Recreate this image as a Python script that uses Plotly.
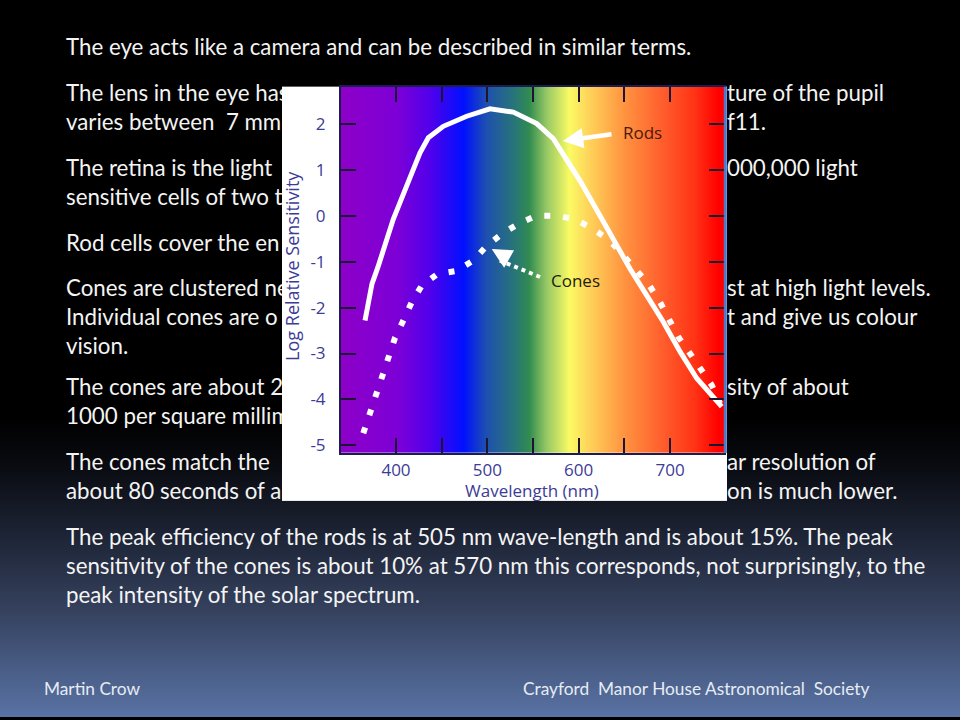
import plotly.graph_objects as go

# ---------------- data ----------------
rods_nm = [366.1, 369.3, 373.7, 380.3, 386.9, 397.0, 411.7, 426.3, 435.4, 451.8, 477.4, 502.9,
           528.4, 554.1, 572.2, 586.9, 601.5, 623.4, 648.9, 656.2, 674.5, 692.7, 711.0, 729.2, 756.6]
rods_log = [-2.28, -1.87, -1.48, -1.11, -0.72, -0.07, 0.66, 1.38, 1.71, 1.96, 2.18, 2.34,
            2.27, 2.02, 1.69, 1.24, 0.77, 0.01, -0.93, -1.15, -1.73, -2.31, -2.96, -3.54, -4.16]

cones_nm = [364.2, 371.5, 378.9, 385.4, 391.6, 398.9, 408.0, 417.2, 428.1, 444.9, 465.7, 484.6,
            499.3, 515.7, 533.9, 554.1, 576.0, 596.0, 616.0, 634.3, 649.0, 665.3, 676.3, 689.1,
            698.2, 709.1, 721.9, 733.6, 745.7, 754.8]
cones_log = [-4.74, -4.30, -3.89, -3.47, -3.07, -2.66, -2.28, -1.88, -1.52, -1.27, -1.20, -0.97,
             -0.65, -0.39, -0.17, 0.01, 0.01, -0.07, -0.28, -0.54, -0.86, -1.22, -1.48, -1.88,
             -2.24, -2.64, -3.00, -3.36, -3.69, -4.09]

# visible spectrum backdrop (wavelength -> colour)
spec_nm = [342, 401, 437, 473, 499, 531, 546, 564, 589, 611, 647, 690, 727, 752]
spec_rgb = ["rgb(140,0,200)", "rgb(125,0,215)", "rgb(80,0,235)", "rgb(0,16,255)",
            "rgb(30,80,175)", "rgb(40,120,115)", "rgb(50,140,80)", "rgb(150,200,100)",
            "rgb(250,250,100)", "rgb(255,210,90)", "rgb(255,150,65)", "rgb(255,95,45)",
            "rgb(255,50,20)", "rgb(255,0,0)"]

x_tick_vals = [400, 450, 500, 550, 600, 650, 700]
x_tick_text = ["400", "", "500", "", "600", "", "700"]
y_tick_vals = [-5, -4, -3, -2, -1, 0, 1, 2]
y_tick_text = ["-5", "-4", "-3", "-2", "-1", "0", "1", "2"]

rods_label = ("Rods", 670.4, 1.83)
rods_arrow_head = (582.8, 1.64)
cones_label = ("Cones", 596.0, -1.41)
cones_arrow_head = (504.8, -0.72)
cones_arrow_tail = (557.7, -1.33)

# slide text (the chart picture is laid over part of it)
left_text = [
    "The eye acts like a camera and can be described in similar terms.",
    "The lens in the eye has",
    "varies between  7 mm",
    "The retina is the light",
    "sensitive cells of two t",
    "Rod cells cover the en",
    "Cones are clustered ne",
    "Individual cones are o",
    "vision.",
    "The cones are about 2",
    "1000 per square millim",
    "The cones match the",
    "about 80 seconds of a",
    "The peak efficiency of the rods is at 505 nm wave-length and is about 15%. The peak",
    "sensitivity of the cones is about 10% at 570 nm this corresponds, not surprisingly, to the",
    "peak intensity of the solar spectrum.",
]
left_y = [47, 93, 122, 168, 197, 243, 289, 318, 347, 388, 417, 463, 492, 539, 568, 597]
right_text = [
    "ture of the pupil",
    "f11.",
    "000,000 light",
    "st at high light levels.",
    "t and give us colour",
    "sity of about",
    "ar resolution of",
    "on is much lower.",
]
right_y = [93, 122, 168, 289, 318, 388, 463, 492]
footer_text = ["Martin Crow", "Crayford  Manor House Astronomical  Society"]
footer_x = [44, 523]

# slide background gradient (y px from top -> colour)
bg_y = [-40, 420, 470, 540, 610, 670, 720, 760]
bg_rgb = ["rgb(0,0,0)", "rgb(0,0,0)", "rgb(10,12,18)", "rgb(30,37,55)",
          "rgb(52,64,92)", "rgb(72,92,132)", "rgb(90,115,165)", "rgb(90,115,165)"]

# ---------------- helpers ----------------
W, H = 960, 720
TEXT_DY = 3  # scatter text sits a little high; nudge down
def px(x):
    return x / W
def py(y):
    return 1 - y / H

shapes = [
    # blue right edge of the picture
    dict(type="line", xref="paper", yref="paper", x0=px(725.3), x1=px(725.3),
         y0=py(455), y1=py(87), line=dict(color="#4f78c8", width=3), layer="above"),
    # dotted stem of the cones arrow
    dict(type="line", xref="x3", yref="y3", x0=cones_arrow_tail[0], y0=cones_arrow_tail[1],
         x1=cones_arrow_head[0] + 9, y1=cones_arrow_head[1] - 0.25,
         line=dict(color="white", width=4, dash="4px,4px"), layer="above"),
]

# ---------------- figure ----------------
TEXT_FONT = dict(family="Lato", size=22.3, color="#f4f4f4")
FOOT_FONT = dict(family="Lato", size=17.3, color="#e6ecf4")

fig = go.Figure()
# 0) slide background gradient on the full-page hidden subplot (x, y)
nb = len(bg_y)
fig.add_trace(go.Heatmap(
    x=[-20, W + 20], y=bg_y, z=[[i, i] for i in range(nb)],
    colorscale=[[i / (nb - 1), c] for i, c in enumerate(bg_rgb)],
    zmin=0, zmax=nb - 1, zsmooth="best", showscale=False, hoverinfo="skip"))
# 1) slide text
fig.add_trace(go.Scatter(x=[66] * len(left_text), y=[v + TEXT_DY for v in left_y], text=left_text,
                         mode="text", textposition="middle right", textfont=TEXT_FONT,
                         hoverinfo="skip", cliponaxis=False))
fig.add_trace(go.Scatter(x=[727] * len(right_text), y=[v + TEXT_DY for v in right_y], text=right_text,
                         mode="text", textposition="middle right", textfont=TEXT_FONT,
                         hoverinfo="skip", cliponaxis=False))
fig.add_trace(go.Scatter(x=footer_x, y=[691 + TEXT_DY] * 2, text=footer_text, mode="text",
                         textposition="middle right", textfont=FOOT_FONT, hoverinfo="skip",
                         cliponaxis=False))
# 2) white picture frame (x2, y2) laid over the text
fig.add_trace(go.Scatter(x=[0], y=[0], mode="markers", marker=dict(opacity=0),
                         xaxis="x2", yaxis="y2", hoverinfo="skip"))
# 3) the chart itself (x3, y3)
n = len(spec_nm)
fig.add_trace(go.Heatmap(
    x=spec_nm, y=[-8, 5], z=[list(range(n)), list(range(n))],
    colorscale=[[i / (n - 1), c] for i, c in enumerate(spec_rgb)],
    zmin=0, zmax=n - 1, zsmooth="best", showscale=False, hoverinfo="skip",
    xaxis="x3", yaxis="y3"))
fig.add_trace(go.Scatter(x=rods_nm, y=rods_log, mode="lines", name="Rods",
                         line=dict(color="white", width=5), hoverinfo="skip",
                         xaxis="x3", yaxis="y3"))
fig.add_trace(go.Scatter(x=cones_nm, y=cones_log, mode="lines", name="Cones",
                         line=dict(color="white", width=6, dash="6px,13px"), hoverinfo="skip",
                         xaxis="x3", yaxis="y3"))

annotations = []
AX_FONT = dict(family="Open Sans", size=17, color="#3c3c96")
annotations.append(dict(text="Wavelength (nm)", xref="paper", yref="paper", x=px(532), y=py(493),
                        xanchor="center", yanchor="middle", showarrow=False, font=AX_FONT))
annotations.append(dict(text="Log Relative Sensitivity", xref="paper", yref="paper", x=px(292),
                        y=py(267), xanchor="center", yanchor="middle", textangle=-90,
                        showarrow=False, font=dict(family="Open Sans", size=18, color="#3c3c96")))

annotations.append(dict(text=rods_label[0], x=rods_label[1], y=rods_label[2], xref="x3", yref="y3",
                        showarrow=False, font=dict(family="Open Sans", size=17, color="#4a1a0c")))
annotations.append(dict(text="", x=rods_arrow_head[0], y=rods_arrow_head[1], xref="x3", yref="y3",
                        ax=50, ay=-7, showarrow=True, arrowhead=2, arrowsize=0.9,
                        arrowwidth=4.5, arrowcolor="white", standoff=0))
annotations.append(dict(text=cones_label[0], x=cones_label[1], y=cones_label[2], xref="x3", yref="y3",
                        showarrow=False, font=dict(family="Open Sans", size=17, color="#221c0c")))
annotations.append(dict(text="", x=cones_arrow_head[0], y=cones_arrow_head[1], xref="x3", yref="y3",
                        ax=14, ay=8, showarrow=True, arrowhead=2, arrowsize=1.0,
                        arrowwidth=4, arrowcolor="white", standoff=0))

TICK_FONT = dict(family="Open Sans", size=17, color="#3c3c96")
hidden = dict(visible=False, showgrid=False, zeroline=False, fixedrange=True)
fig.update_layout(
    width=W, height=H, autosize=False,
    margin=dict(l=0, r=0, t=0, b=0, pad=0),
    paper_bgcolor="black", plot_bgcolor="white",
    showlegend=False,
    xaxis=dict(domain=[0, 1], range=[0, W], **hidden),
    yaxis=dict(domain=[0, 1], range=[H, 0], **hidden),
    xaxis2=dict(domain=[px(282), px(727)], range=[0, 1], anchor="y2", **hidden),
    yaxis2=dict(domain=[py(503), py(87)], range=[0, 1], anchor="x2", **hidden),
    xaxis3=dict(domain=[px(341), px(724)], range=[339.8, 759.1], anchor="y3",
                tickvals=x_tick_vals, ticktext=x_tick_text,
                ticks="inside", ticklen=15, tickwidth=2, tickcolor="#1c1430",
                showline=True, linecolor="#1c1c50", linewidth=2, mirror="ticks",
                showgrid=False, zeroline=False, tickfont=TICK_FONT, ticklabelstandoff=0,
                fixedrange=True),
    yaxis3=dict(domain=[py(455), py(87)], range=[-5.174, 2.826], anchor="x3",
                tickvals=y_tick_vals, ticktext=y_tick_text,
                ticks="inside", ticklen=15, tickwidth=2, tickcolor="#1c1430",
                showline=True, linecolor="#1c1c50", linewidth=2, mirror="ticks",
                showgrid=False, zeroline=False, tickfont=TICK_FONT, ticklabelstandoff=10,
                fixedrange=True),
    shapes=shapes,
    annotations=annotations,
)

fig.write_html("out.html", config={"displayModeBar": False},
               post_script="document.body.style.margin='0';")
